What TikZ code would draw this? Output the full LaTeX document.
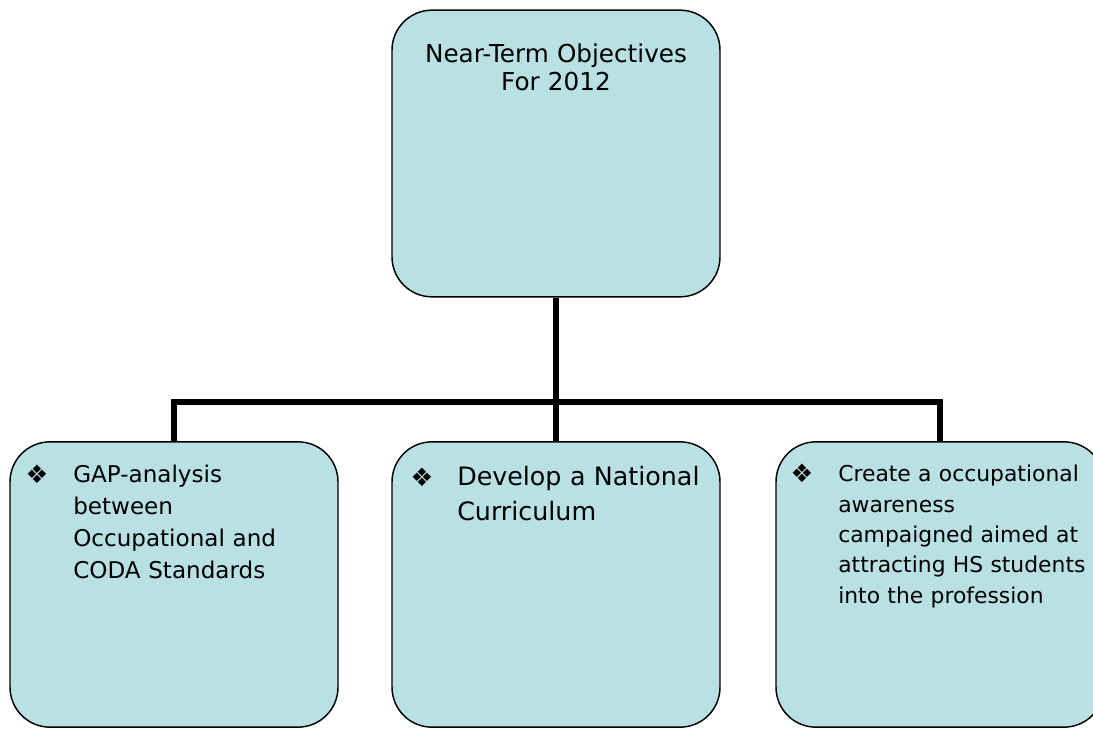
\documentclass[tikz,border=0pt]{standalone}
\usepackage{fontspec}
\setmainfont{DejaVu Sans}
\usepackage{xcolor}
\definecolor{objfill}{RGB}{185,224,227}
\tikzset{
  objbox/.style={draw=black,line width=1.1pt,fill=objfill,rounded corners=30pt,
    minimum width=246pt,minimum height=214pt,inner sep=0pt},
  link/.style={line width=4.3pt},
  bul/.style={font=\fontsize{19}{19}\selectfont,inner sep=0pt},
  txt/.style={align=left,text width=220pt,inner sep=0pt,anchor=base west}
}

\begin{document}
\begin{tikzpicture}[x=0.75pt,y=-0.75pt]
    \useasboundingbox (0,0) rectangle (1093,730);
    \clip (0,0) rectangle (1093,730);
    %% boxes
    \node[objbox,minimum height=215pt] (top) at (556,153.5) {};
    \node[objbox] (gap) at (174,584.5) {};
    \node[objbox] (curr) at (556,584.5) {};
    \node[objbox] (aware) at (940,584.5) {};
    \coordinate (bus) at (556,402);
    %% connectors
    \draw[link] (top) to (curr);
    \draw[link] (gap.north) -- (gap.north |- bus) -- (aware.north |- bus) -- (aware.north);
    %%
    \node[align=center,text width=240pt,inner sep=0pt,anchor=base,
      font=\fontsize{18.5}{20.5}\selectfont] (toptxt) at (556,63) {Near-Term Objectives\\For 2012};
    %%
    \node[bul] (b1) at (37,474) {❖};
    \node[txt,font=\fontsize{17.3}{23.8}\selectfont] (gaptxt) at (73,483)
      {GAP-analysis\\between\\Occupational and\\CODA Standards};
    \node[bul] (b2) at (422,477) {❖};
    \node[txt,font=\fontsize{19}{26}\selectfont] (currtxt) at (457,486)
      {Develop a National\\Curriculum};
    \node[bul] (b3) at (802,473) {❖};
    \node[txt,font=\fontsize{16.4}{22.7}\selectfont] (awaretxt) at (838,482)
      {Create a occupational\\awareness\\campaigned aimed at\\attracting HS students\\into the profession};
\end{tikzpicture}
\end{document}
